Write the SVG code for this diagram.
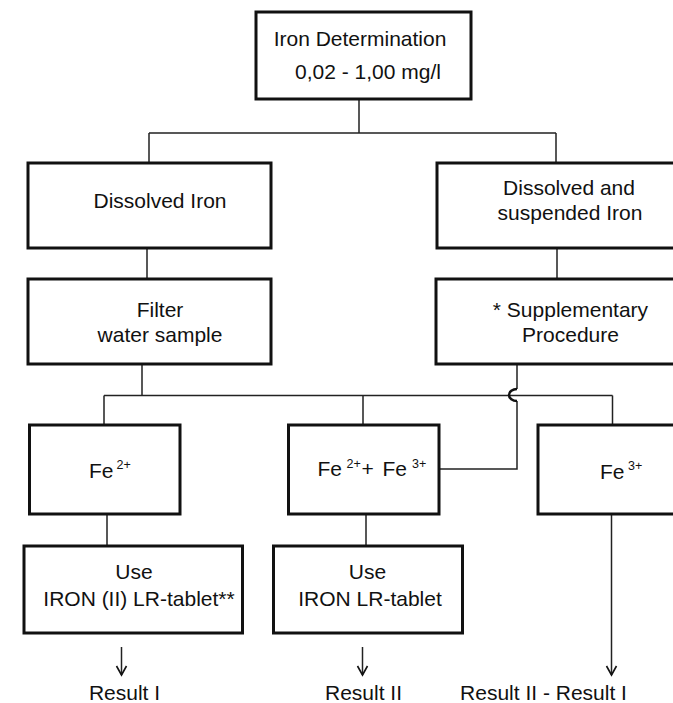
<svg xmlns="http://www.w3.org/2000/svg" width="673" height="703" viewBox="0 0 673 703">
<style>
.box{fill:#fff;stroke:#111;stroke-width:3}
.ln{fill:none;stroke:#222;stroke-width:1.5}
.hop{fill:none;stroke:#111;stroke-width:2.5}
text{font-family:"Liberation Sans",Arial,sans-serif;font-size:21px;fill:#111}
.m{text-anchor:middle}
.sup{font-size:12.5px}
</style>
<defs>
<marker id="arr" markerUnits="userSpaceOnUse" markerWidth="14" markerHeight="14" refX="10" refY="6" orient="auto" viewBox="0 0 14 12">
<path d="M1,1 L10,6 L1,11" fill="none" stroke="#111" stroke-width="1.6"/>
</marker>
</defs>
<rect x="0" y="0" width="673" height="703" fill="#fff"/>
<g id="connectors">
<path class="ln" d="M359,99 V133 M149,133 H556 M149,133 V163 M556,133 V163"/>
<path class="ln" d="M147,248 V279 M557,248 V279"/>
<path class="ln" d="M142,364 V395.5 M104,395.5 H612.5 M104,395.5 V425 M363,395.5 V425 M612.5,395.5 V425"/>
<path class="ln" d="M517,364 V389 M517,401 V469 H439"/>
<path class="hop" d="M517,389 A8,6 0 0 0 517,401"/>
<path class="ln" d="M107,514 V546 M366,514 V546"/>
<path class="ln" d="M611.5,514 V675" marker-end="url(#arr)"/>
<path class="ln" d="M121.5,647 V675" marker-end="url(#arr)"/>
<path class="ln" d="M362.5,647 V675" marker-end="url(#arr)"/>
</g>
<g id="top">
<rect class="box" x="256" y="12" width="215" height="87"/>
<text class="m" x="360" y="46">Iron Determination</text>
<text class="m" x="368" y="79">0,02 - 1,00 mg/l</text>
</g>
<g id="dissolved">
<rect class="box" x="28" y="163" width="243" height="85"/>
<text class="m" x="160" y="208">Dissolved Iron</text>
</g>
<g id="suspended">
<rect class="box" x="437" y="163" width="240" height="85"/>
<text class="m" x="569" y="195">Dissolved and</text>
<text class="m" x="570" y="220">suspended Iron</text>
</g>
<g id="filter">
<rect class="box" x="28" y="279" width="243" height="85"/>
<text class="m" x="160" y="317">Filter</text>
<text class="m" x="160" y="342">water sample</text>
</g>
<g id="supplementary">
<rect class="box" x="436" y="279" width="241" height="85"/>
<text class="m" x="570.5" y="317">* Supplementary</text>
<text class="m" x="570.5" y="342">Procedure</text>
</g>
<g id="fe2">
<rect class="box" x="29.5" y="425" width="150.5" height="89"/>
<text x="89" y="478">Fe</text>
<text class="sup" x="116.5" y="469">2+</text>
</g>
<g id="fe23">
<rect class="box" x="288.5" y="425" width="150.5" height="89"/>
<text x="317.5" y="476">Fe</text>
<text class="sup" x="346.5" y="467.5">2+</text>
<text x="361.5" y="476">+</text>
<text x="382.5" y="476">Fe</text>
<text class="sup" x="412" y="467.5">3+</text>
</g>
<g id="fe3">
<rect class="box" x="538" y="425" width="140" height="89"/>
<text x="600" y="479">Fe</text>
<text class="sup" x="628" y="470">3+</text>
</g>
<g id="use2">
<rect class="box" x="24" y="546" width="218.5" height="87"/>
<text class="m" x="134" y="579">Use</text>
<text class="m" x="139" y="606">IRON (II) LR-tablet**</text>
</g>
<g id="use23">
<rect class="box" x="273.5" y="546" width="189" height="87"/>
<text class="m" x="367.5" y="579">Use</text>
<text class="m" x="370" y="606">IRON LR-tablet</text>
</g>
<g id="results">
<text class="m" x="124.5" y="700">Result I</text>
<text class="m" x="363.5" y="700">Result II</text>
<text class="m" x="543.5" y="700">Result II - Result I</text>
</g>
</svg>
